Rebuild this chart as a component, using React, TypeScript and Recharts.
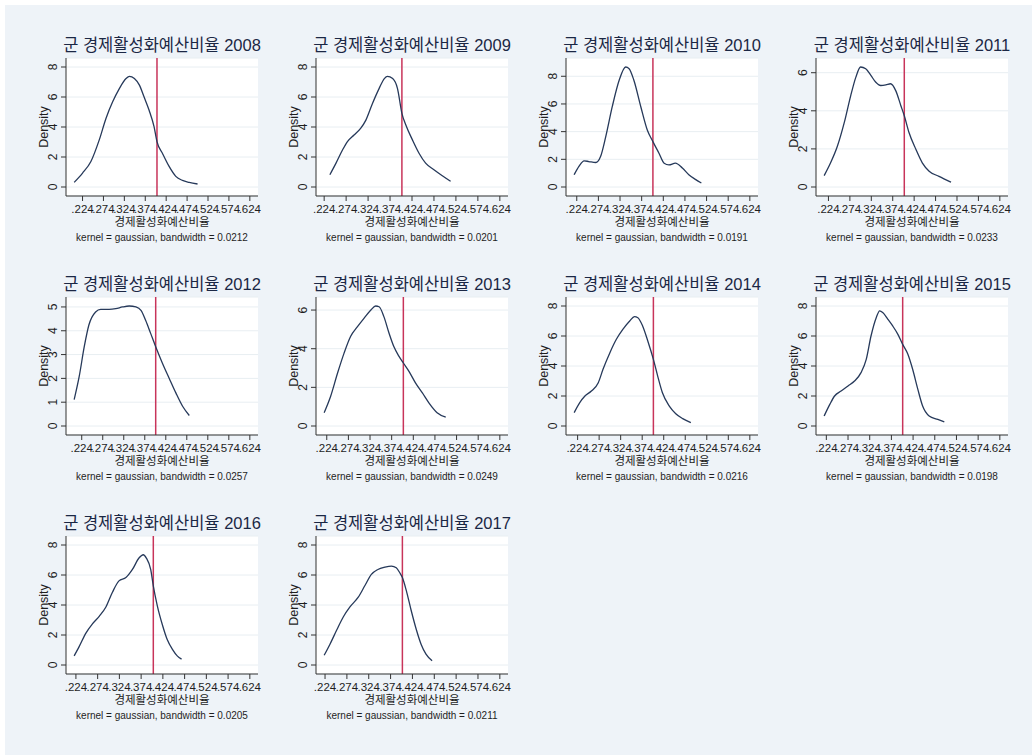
import { LineChart, Line, XAxis, YAxis, CartesianGrid, ReferenceLine } from 'recharts';

// kdensity curves of 군 경제활성화예산비율, one panel per year
const years = [2008, 2009, 2010, 2011, 2012, 2013, 2014, 2015, 2016, 2017];
const bandwidths = ['0.0212', '0.0201', '0.0191', '0.0233', '0.0257', '0.0249', '0.0216', '0.0198', '0.0205', '0.0211'];
const meanLines = [0.402, 0.401, 0.400, 0.401, 0.400, 0.401, 0.400, 0.400, 0.402, 0.401];
const xTickValues = [0.224, 0.274, 0.324, 0.374, 0.424, 0.474, 0.524, 0.574, 0.624];

const yTicks8 = [0, 2, 4, 6, 8];
const yTicks6 = [0, 2, 4, 6];
const yTicks5 = [0, 1, 2, 3, 4, 5];

const x2008 = [0.204, 0.224, 0.244, 0.264, 0.280, 0.296, 0.312, 0.328, 0.336, 0.348, 0.360, 0.371, 0.383, 0.395, 0.402, 0.415, 0.431, 0.447, 0.463, 0.479, 0.499];
const d2008 = [0.31, 0.93, 1.70, 3.14, 4.57, 5.68, 6.56, 7.23, 7.38, 7.23, 6.79, 6.01, 5.13, 4.02, 3.03, 2.25, 1.37, 0.71, 0.44, 0.31, 0.20];

const x2009 = [0.237, 0.251, 0.266, 0.277, 0.292, 0.307, 0.319, 0.334, 0.349, 0.361, 0.368, 0.380, 0.391, 0.401, 0.410, 0.425, 0.440, 0.455, 0.474, 0.493, 0.512];
const d2009 = [0.82, 1.59, 2.48, 3.03, 3.47, 3.91, 4.46, 5.57, 6.56, 7.23, 7.38, 7.23, 6.56, 4.91, 4.13, 3.14, 2.25, 1.59, 1.15, 0.75, 0.38];

const x2010 = [0.218, 0.229, 0.241, 0.252, 0.268, 0.279, 0.291, 0.306, 0.322, 0.337, 0.345, 0.356, 0.372, 0.387, 0.400, 0.414, 0.426, 0.437, 0.452, 0.468, 0.483, 0.499, 0.512];
const d2010 = [0.89, 1.49, 1.89, 1.84, 1.77, 2.20, 3.64, 5.80, 7.71, 8.67, 8.55, 7.71, 5.80, 4.12, 3.28, 2.44, 1.72, 1.60, 1.72, 1.37, 0.89, 0.53, 0.29];

const x2011 = [0.214, 0.229, 0.245, 0.261, 0.276, 0.288, 0.299, 0.311, 0.323, 0.334, 0.346, 0.358, 0.369, 0.381, 0.393, 0.401, 0.412, 0.428, 0.443, 0.459, 0.482, 0.510];
const d2011 = [0.60, 1.27, 2.15, 3.39, 4.80, 5.77, 6.30, 6.21, 5.86, 5.51, 5.33, 5.36, 5.42, 5.06, 4.27, 3.74, 2.86, 1.98, 1.27, 0.83, 0.56, 0.25];

const x2012 = [0.206, 0.218, 0.230, 0.241, 0.257, 0.269, 0.289, 0.305, 0.321, 0.337, 0.353, 0.365, 0.376, 0.388, 0.400, 0.416, 0.432, 0.448, 0.464, 0.480];
const d2012 = [1.11, 2.08, 3.33, 4.24, 4.79, 4.90, 4.90, 4.93, 5.00, 5.04, 5.00, 4.86, 4.44, 3.89, 3.33, 2.64, 2.01, 1.39, 0.83, 0.44];

const x2013 = [0.218, 0.233, 0.249, 0.264, 0.279, 0.295, 0.310, 0.326, 0.337, 0.345, 0.356, 0.368, 0.379, 0.391, 0.401, 0.414, 0.429, 0.445, 0.460, 0.479, 0.499];
const d2013 = [0.69, 1.54, 2.74, 3.77, 4.63, 5.14, 5.57, 6.00, 6.21, 6.17, 5.66, 4.80, 4.11, 3.60, 3.26, 2.83, 2.23, 1.71, 1.20, 0.69, 0.46];

const x2014 = [0.216, 0.229, 0.241, 0.256, 0.272, 0.283, 0.299, 0.314, 0.329, 0.345, 0.356, 0.364, 0.375, 0.387, 0.400, 0.410, 0.421, 0.437, 0.452, 0.468, 0.487];
const d2014 = [0.89, 1.56, 2.00, 2.33, 2.89, 3.78, 4.89, 5.78, 6.44, 7.00, 7.29, 7.22, 6.67, 5.67, 4.44, 3.33, 2.22, 1.33, 0.82, 0.49, 0.22];

const x2015 = [0.219, 0.232, 0.243, 0.258, 0.274, 0.289, 0.304, 0.316, 0.327, 0.339, 0.347, 0.354, 0.366, 0.377, 0.389, 0.400, 0.412, 0.423, 0.435, 0.446, 0.461, 0.481, 0.496];
const d2015 = [0.67, 1.44, 2.00, 2.33, 2.67, 3.00, 3.56, 4.44, 6.00, 7.22, 7.67, 7.56, 7.11, 6.67, 6.11, 5.44, 4.78, 3.78, 2.44, 1.33, 0.67, 0.44, 0.27];

const x2016 = [0.220, 0.232, 0.247, 0.262, 0.278, 0.293, 0.308, 0.323, 0.339, 0.354, 0.369, 0.379, 0.386, 0.396, 0.402, 0.411, 0.423, 0.434, 0.446, 0.457, 0.467];
const d2016 = [0.61, 1.26, 2.13, 2.74, 3.26, 3.87, 4.85, 5.61, 5.83, 6.37, 7.13, 7.35, 7.13, 6.37, 5.28, 3.98, 2.67, 1.70, 1.04, 0.61, 0.39];

const x2017 = [0.222, 0.235, 0.251, 0.266, 0.281, 0.300, 0.315, 0.330, 0.345, 0.361, 0.376, 0.387, 0.395, 0.401, 0.410, 0.421, 0.433, 0.444, 0.455, 0.469];
const d2017 = [0.65, 1.37, 2.35, 3.22, 3.87, 4.52, 5.28, 6.04, 6.37, 6.52, 6.59, 6.48, 6.15, 5.83, 4.96, 3.65, 2.35, 1.37, 0.72, 0.28];

const xSeries = [x2008, x2009, x2010, x2011, x2012, x2013, x2014, x2015, x2016, x2017];
const dSeries = [d2008, d2009, d2010, d2011, d2012, d2013, d2014, d2015, d2016, d2017];
const yTickSets = [yTicks8, yTicks8, yTicks8, yTicks6, yTicks5, yTicks6, yTicks8, yTicks8, yTicks8, yTicks8];

const FONT = '"Liberation Sans", Arial, "Noto Sans CJK KR", sans-serif';
const TEXT = '#1e1e1e';
const TITLE = '#1b2744';
const CURVE = '#26395a';
const MEAN = '#c8345a';

const PLOT_W = 192;
const PLOT_H = 138;
const COL_STEP = 250;
const ROW_STEP = 239;

const padRange = (lo: number, hi: number, frac: number): [number, number] => {
  const r = hi - lo;
  return [lo - r * frac, hi + r * frac];
};

const YTick = (props: any) => {
  const { x, y, payload } = props;
  return (
    <text x={x} y={y} transform={`rotate(-90, ${x}, ${y})`} textAnchor="middle" fontSize={12} fill={TEXT} fontFamily={FONT}>
      {payload.value}
    </text>
  );
};

const Panel = ({ idx }: { idx: number }) => {
  const col = idx % 4;
  const row = Math.floor(idx / 4);
  const plotLeft = 66 + COL_STEP * col;
  const plotTop = 58 + ROW_STEP * row;
  const xs = xSeries[idx];
  const ds = dSeries[idx];
  const ticks = yTickSets[idx];
  const data = xs.map((x, i) => ({ x, d: ds[i] }));
  const xDomain = padRange(Math.min(xs[0], xTickValues[0]), Math.max(xs[xs.length - 1], xTickValues[xTickValues.length - 1]), 0.0465);
  const yDomain = padRange(0, Math.max(Math.max(...ds), ticks[ticks.length - 1]), 0.075);

  const abs = { position: 'absolute' as const, fontFamily: FONT, whiteSpace: 'nowrap' as const, lineHeight: 1 };

  return (
    <>
      <div style={{ ...abs, left: plotLeft + PLOT_W / 2, top: plotTop - 13, transform: 'translate(-50%, -50%)', fontSize: 16.5, color: TITLE }}>
        군 경제활성화예산비율 {years[idx]}
      </div>
      <div style={{ ...abs, left: plotLeft - 22, top: plotTop + PLOT_H / 2, transform: 'translate(-50%, -50%) rotate(-90deg)', fontSize: 12.5, color: TEXT }}>
        Density
      </div>
      <div style={{ position: 'absolute', left: plotLeft - 40, top: plotTop - 10 }}>
        <LineChart width={PLOT_W + 50} height={PLOT_H + 40} data={data} margin={{ top: 10, right: 10, left: 0, bottom: 0 }}>
          <CartesianGrid horizontal vertical={false} stroke="#e8eef2" strokeWidth={1} fill="#ffffff" />
          <XAxis
            dataKey="x"
            type="number"
            domain={xDomain}
            allowDataOverflow
            ticks={xTickValues}
            interval={0}
            tickFormatter={(v: number) => '.' + Math.round(v * 1000)}
            tick={{ fontSize: 11.5, fill: TEXT, fontFamily: FONT }}
            tickSize={5}
            tickMargin={4}
            height={30}
            stroke="#333"
          />
          <YAxis
            type="number"
            domain={yDomain}
            allowDataOverflow
            ticks={ticks}
            interval={0}
            tick={<YTick />}
            tickSize={5}
            tickMargin={4}
            width={40}
            stroke="#333"
          />
          <ReferenceLine x={meanLines[idx]} stroke={MEAN} strokeWidth={1.5} />
          <Line type="monotone" dataKey="d" stroke={CURVE} strokeWidth={1.3} dot={false} isAnimationActive={false} />
        </LineChart>
      </div>
      <div style={{ ...abs, left: plotLeft + PLOT_W / 2, top: plotTop + PLOT_H + 27, transform: 'translate(-50%, -50%)', fontSize: 11.5, color: TEXT }}>
        경제활성화예산비율
      </div>
      <div style={{ ...abs, left: plotLeft + PLOT_W / 2, top: plotTop + PLOT_H + 42, transform: 'translate(-50%, -50%)', fontSize: 10, color: TEXT }}>
        kernel = gaussian, bandwidth = {bandwidths[idx]}
      </div>
    </>
  );
};

export default function App() {
  return (
    <div style={{ position: 'absolute', left: 0, top: 0, width: 1032, height: 755, background: '#ffffff', overflow: 'hidden' }}>
      <div style={{ position: 'absolute', left: 5, top: 5, right: 0, bottom: 0, background: '#eef3f8' }} />
      {years.map((_, i) => (
        <Panel key={i} idx={i} />
      ))}
    </div>
  );
}
